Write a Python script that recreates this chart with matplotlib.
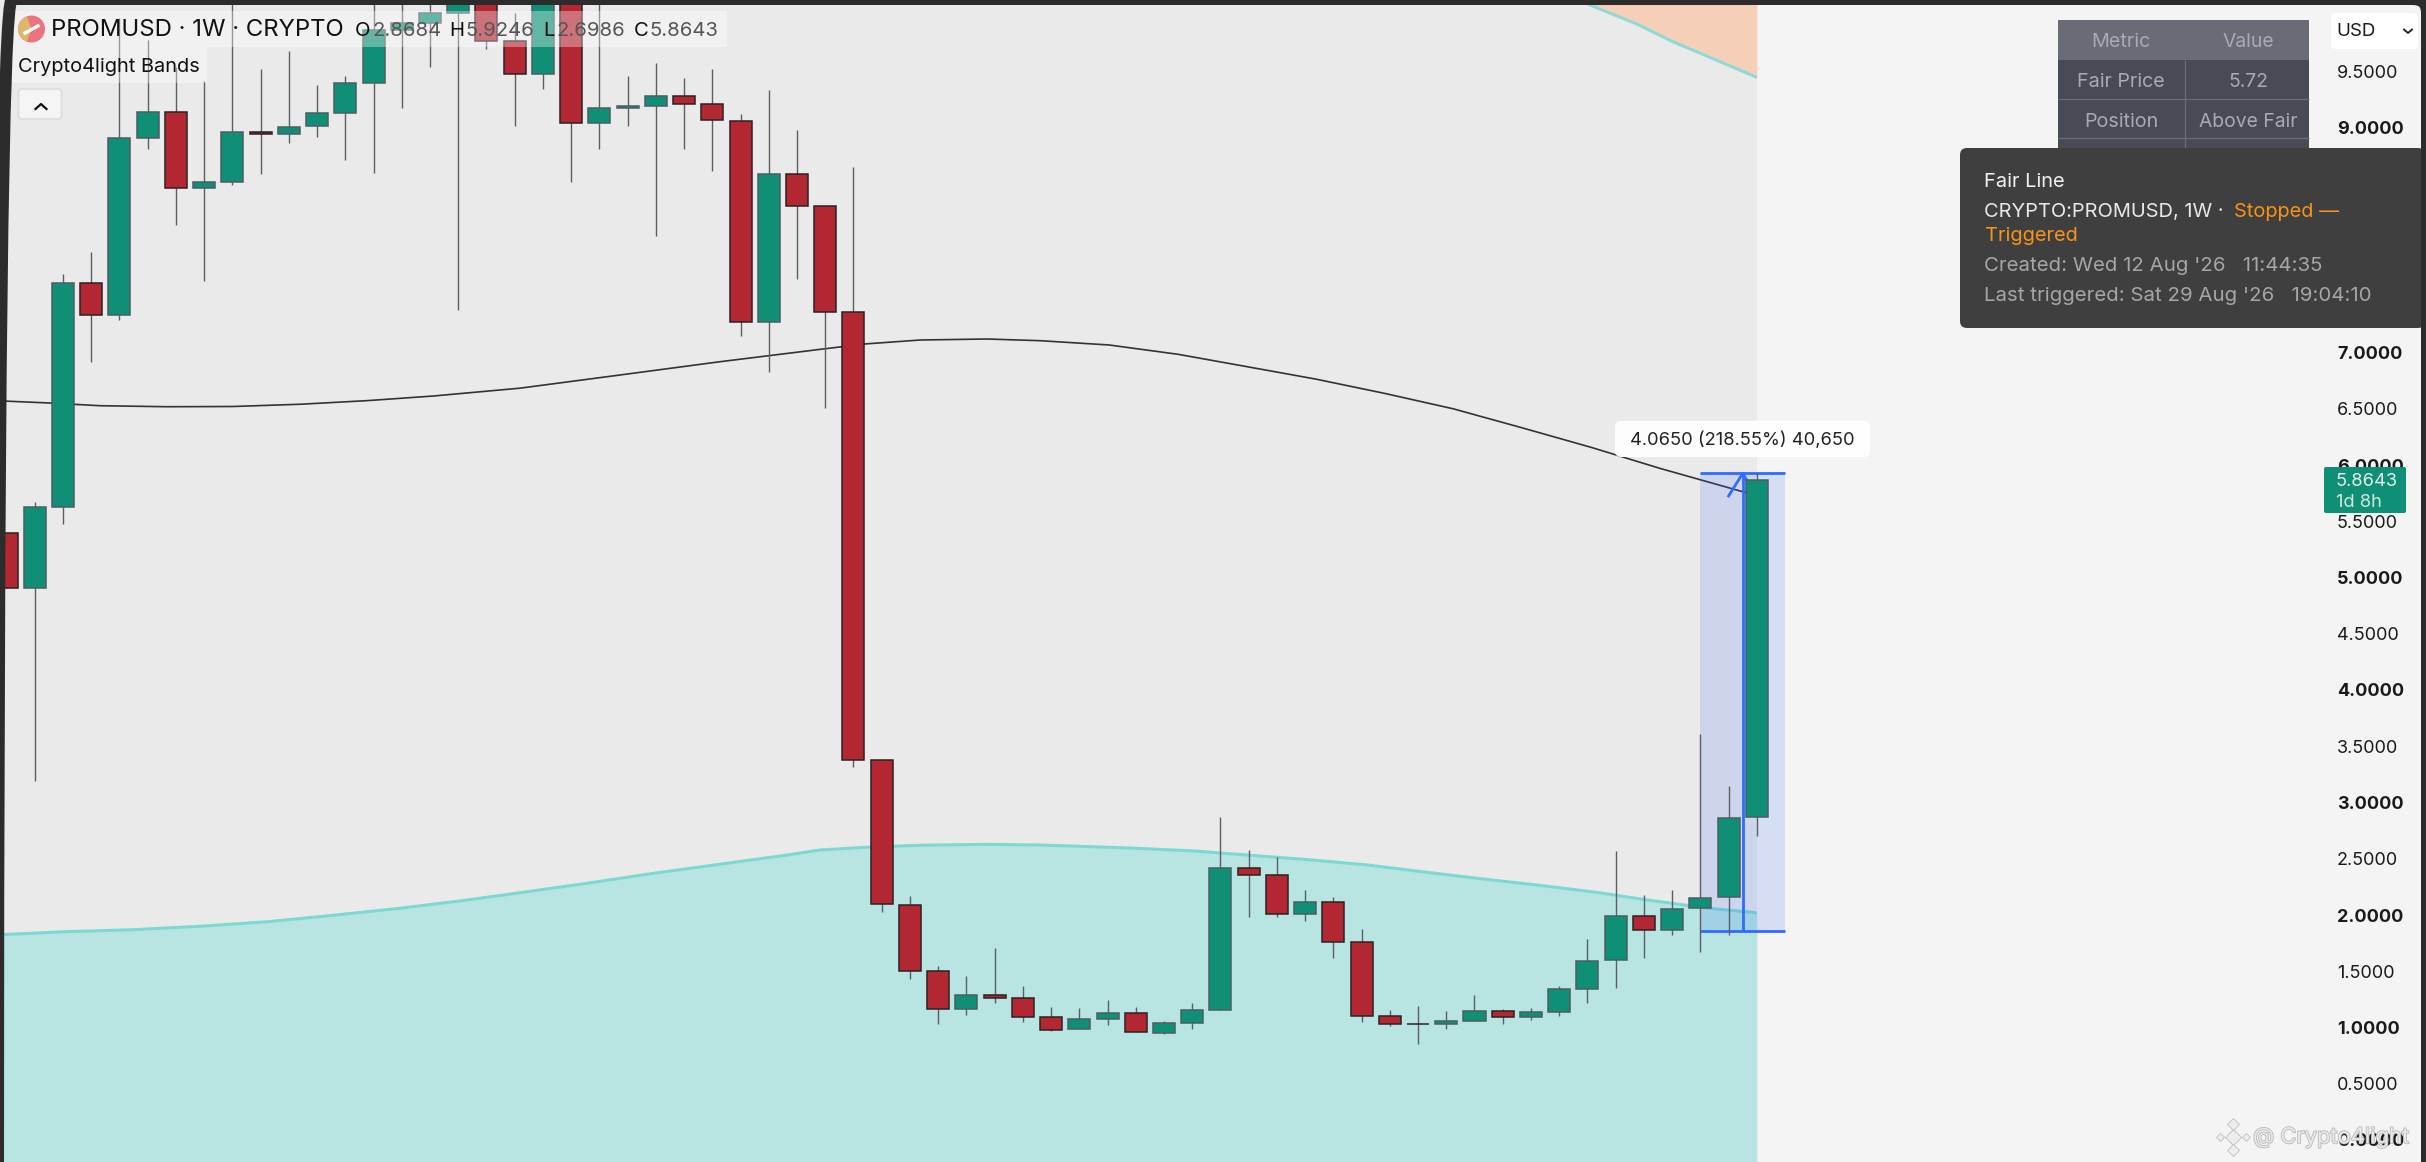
import matplotlib
matplotlib.use('Agg')
from matplotlib import pyplot as plt
from matplotlib import patches
from matplotlib import patheffects
import numpy as np

plt.rcParams['font.family'] = ['Inter', 'DejaVu Sans']

W, H = 2426, 1162
DPI = 100

# weekly candles, first bar index is -2
first_bar = -2
opens = [5.40, 4.91, 5.63, 7.62, 7.33, 8.91, 9.14, 8.46, 8.52, 8.96, 8.94, 9.01, 9.13, 9.40, 9.87, 9.93, 10.02,
         10.25, 9.77, 9.475, 10.25, 9.04, 9.17, 9.19, 9.28, 9.205, 9.06, 7.27, 8.59, 8.30, 7.36, 3.38, 2.09,
         1.50, 1.165, 1.29, 1.26, 1.09, 0.99, 1.08, 1.13, 0.955, 1.04, 1.16, 2.415, 2.36, 2.005, 2.12, 1.76,
         1.10, 1.035, 1.03, 1.06, 1.15, 1.09, 1.14, 1.34, 1.60, 1.995, 1.865, 2.06, 2.16, 2.8684]
closes = [4.91, 5.63, 7.62, 7.33, 8.91, 9.14, 8.46, 8.52, 8.96, 8.94, 9.00, 9.13, 9.40, 9.87, 9.93, 10.02, 10.25,
          9.77, 9.475, 10.25, 9.04, 9.17, 9.19, 9.28, 9.205, 9.07, 7.27, 8.59, 8.30, 7.36, 3.38, 2.10, 1.50,
          1.165, 1.29, 1.26, 1.09, 0.98, 1.08, 1.13, 0.96, 1.04, 1.16, 2.415, 2.36, 2.005, 2.12, 1.76, 1.105,
          1.03, 1.034, 1.06, 1.15, 1.09, 1.14, 1.34, 1.595, 1.995, 1.865, 2.05, 2.155, 2.865, 5.8643]
highs = [5.40, 5.67, 7.70, 7.89, 9.97, 9.78, 9.54, 9.41, 10.3, 9.52, 9.68, 9.38, 9.46, 10.3, 10.3, 10.3, 10.3,
         10.3, 10.02, 10.3, 10.3, 10.3, 9.46, 9.57, 9.44, 9.52, 9.12, 9.33, 8.98, 8.30, 8.65, 3.38, 2.17,
         1.55, 1.46, 1.71, 1.37, 1.18, 1.17, 1.245, 1.18, 1.06, 1.22, 2.87, 2.58, 2.52, 2.22, 2.16, 1.88,
         1.155, 1.19, 1.15, 1.29, 1.165, 1.17, 1.37, 1.79, 2.57, 2.18, 2.225, 3.61, 3.15, 5.9246]
lows = [4.91, 3.19, 5.48, 6.92, 7.29, 8.81, 8.13, 7.64, 8.49, 8.59, 8.86, 8.92, 8.71, 8.60, 9.17, 9.54, 7.38,
        9.70, 9.01, 9.34, 8.52, 8.81, 9.01, 8.04, 8.81, 8.61, 7.15, 6.83, 7.65, 6.51, 3.32, 2.03, 1.43,
        1.03, 1.11, 1.22, 1.05, 0.97, 0.99, 1.02, 0.96, 0.94, 0.99, 1.16, 1.98, 1.985, 1.95, 1.62, 1.05,
        1.01, 0.85, 0.99, 1.06, 1.03, 1.07, 1.10, 1.22, 1.355, 1.62, 1.82, 1.675, 1.82, 2.6986]

fair_x = [-2.23, -0.46, 1.31, 3.68, 6.02, 8.40, 10.77, 13.11, 16.19, 19.73, 23.27, 26.82, 28.41, 30.36, 32.73,
          34.61, 37.05, 39.50, 41.94, 44.37, 46.79, 49.24, 51.68, 54.13, 56.57, 59.58, 60]
fair_y = [6.57, 6.551, 6.527, 6.518, 6.52, 6.54, 6.572, 6.613, 6.683, 6.80, 6.918, 7.028, 7.076, 7.111, 7.12,
          7.105, 7.067, 6.984, 6.874, 6.764, 6.638, 6.50, 6.331, 6.157, 5.97, 5.757, 5.72]

lower_x = [-2.23, 0.14, 2.48, 4.85, 7.23, 9.56, 11.94, 14.31, 16.19, 18.56, 20.90, 23.27, 25.65, 26.82, 28.59,
           30.36, 32.73, 34.61, 36, 38, 40.1, 42.1, 44.1, 46.2, 48.2, 50.2, 52.3, 54.3, 56.3, 58.4, 60]
lower_y = [1.825, 1.852, 1.869, 1.90, 1.94, 1.997, 2.06, 2.133, 2.198, 2.282, 2.37, 2.451, 2.533, 2.578, 2.604,
           2.62, 2.628, 2.622, 2.611, 2.593, 2.569, 2.53, 2.492, 2.445, 2.383, 2.323, 2.264, 2.202, 2.127, 2.057,
           2.02]

upper_x = [53.9, 54.09, 55.75, 57.03, 58.09, 59.05, 60]
upper_y = [10.13, 10.089, 9.92, 9.762, 9.65, 9.547, 9.446]

ruler_start = 58
ruler_end = 61
ruler_mid = 59.5
ruler_low = 1.8596
ruler_high = 5.9246

# 7.5 to 8.5 sit behind the alert tooltip
price_ticks = [0, 0.5, 1, 1.5, 2, 2.5, 3, 3.5, 4, 4.5, 5, 5.5, 6, 6.5, 7, 9, 9.5]

GREEN = '#0F8F75'
RED = '#B32733'
GREEN_EDGE = '#4C5E62'
RED_EDGE = '#2A2226'

fig = plt.figure(figsize=(W / DPI, H / DPI), dpi=DPI, facecolor='#F4F4F4')
ax = fig.add_axes([0, 0, 1, 1], facecolor='#F4F4F4')

# 28.23 px per bar, bar 0 at x=63; 112.5 px per 1.0 of price, 0 at y=1140
x_left = -63 / 28.23
x_right = (W - 63) / 28.23
y_bottom = (1140 - H) / 112.5
y_top = 1140 / 112.5

ax.axvspan(x_left, 60, color='#EAEAEA', lw=0, zorder=0)
ax.fill_between(lower_x, y_bottom - 1, lower_y, color='#B8E5E2', lw=0, zorder=1)
ax.plot(lower_x, lower_y, color='#7DD8D3', lw=2.2, solid_capstyle='butt', zorder=2)
ax.fill_between(upper_x, upper_y, y_top + 1, color='#F5CFB8', lw=0, zorder=1)
ax.plot(upper_x, upper_y, color='#8FDAD6', lw=2.2, solid_capstyle='butt', zorder=2)
ax.plot(fair_x, fair_y, color='#333333', lw=1.2, zorder=3)

# ruler
ax.axvspan(ruler_start, ruler_end, ymin=(ruler_low - y_bottom) / (y_top - y_bottom),
           ymax=(ruler_high - y_bottom) / (y_top - y_bottom), color='#2962FF', alpha=0.15, lw=0, zorder=3)
ax.hlines([ruler_low, ruler_high], ruler_start, ruler_end, color='#2F6BFF', lw=2.0, zorder=4)
ax.vlines(ruler_mid, ruler_low, ruler_high, color='#2F6BFF', lw=2.0, zorder=4)
ax.plot([ruler_mid - 0.5, ruler_mid, ruler_mid + 0.5], [ruler_high - 0.2, ruler_high, ruler_high - 0.2],
        color='#2F6BFF', lw=2.0, zorder=4)

# candles
bars = np.arange(len(opens)) + first_bar
opens = np.array(opens)
closes = np.array(closes)
up = closes >= opens
ax.vlines(bars, lows, highs, color='#5A5F66', lw=1.0, zorder=5)
ax.bar(bars[up], (closes - opens)[up], bottom=opens[up], width=0.78, color=GREEN, edgecolor=GREEN_EDGE, lw=1.1, zorder=6)
ax.bar(bars[~up], (closes - opens)[~up], bottom=opens[~up], width=0.78, color=RED, edgecolor=RED_EDGE, lw=1.1, zorder=6)

ax.set_xlim(x_left, x_right)
ax.set_ylim(y_bottom, y_top)
ax.set_xticks([])
ax.yaxis.tick_right()
ax.set_yticks(price_ticks)
ax.set_yticklabels(['{:.4f}'.format(t) for t in price_ticks])
ax.tick_params(axis='y', length=0, pad=-(W - 2337) * 72 / DPI, labelsize=13, labelcolor='#1A1A1A')
for t, label in zip(price_ticks, ax.get_yticklabels()):
    if t == int(t):
        label.set_fontweight('bold')
for s in ax.spines.values():
    s.set_visible(False)

# screen furniture on top, in pixels
ui = fig.add_axes([0, 0, 1, 1], facecolor='none')
ui.set_xlim(0, W)
ui.set_ylim(H, 0)
ui.axis('off')


def box(x, y, w, h, fc, ec='none', lw=0, r=0, alpha=None, z=2):
    style = 'round,pad=0,rounding_size={}'.format(r) if r else 'square,pad=0'
    p = patches.FancyBboxPatch((x, y), w, h, boxstyle=style, fc=fc, ec=ec, lw=lw, alpha=alpha, zorder=z)
    ui.add_patch(p)


def label(x, y, s, size, color='#1A1A1A', ha='left', weight='normal', z=5):
    return ui.text(x, y, s, fontsize=size, color=color, ha=ha, va='center', fontweight=weight, zorder=z)


# legend header
box(10, 11, 717, 36, 'white', alpha=0.35)
box(10, 47, 197, 36, 'white', alpha=0.35)
ui.add_patch(patches.Circle((31.5, 29), 13.5, fc='#EC7480', ec='none', zorder=3))
ui.add_patch(patches.Wedge((31.5, 29), 13.5, 110, 250, fc='#E2B56C', ec='none', zorder=3))
ui.plot([25, 38], [33, 26], color='white', lw=2.4, zorder=4)
label(51, 30.5, 'PROMUSD · 1W · CRYPTO', 17.2, '#111111')
for x, s in [(355, 'O'), (449, 'H'), (543, 'L'), (634, 'C')]:
    label(x, 30.5, s, 14.6, '#111111')
for x, s in [(372, '2.8684'), (465, '5.9246'), (557, '2.6986'), (649, '5.8643')]:
    label(x, 30.5, s, 14.6, '#555555')
label(18.5, 66.5, 'Crypto4light Bands', 14.4, '#111111')
box(18.5, 89, 43, 30, '#F5F5F5', ec='#DDDDDD', lw=1.2, r=4)
ui.plot([35.5, 41, 46.5], [109, 104, 109], color='#111111', lw=1.6, zorder=4)

# metric table
box(2058, 20, 251, 40, '#696C76')
box(2058, 60, 251, 100, '#484B55')
ui.vlines(2184.5, 60, 160, color='#6B6E76', lw=0.9, zorder=3)
ui.hlines([98.5, 138], 2058, 2309, color='#6B6E76', lw=0.9, zorder=3)
for y, a, b in [(42, 'Metric', 'Value'), (82, 'Fair Price', '5.72'), (122, 'Position', 'Above Fair')]:
    label(2121, y, a, 14.2, '#A9ABB2', ha='center')
    label(2248, y, b, 13.9, '#A9ABB2', ha='center')

# alert tooltip
box(1960, 148, 465, 180, '#3F3F3F', r=7, z=6)
label(1984.5, 182, 'Fair Line', 14.4, '#F0F0F0', z=7)
label(1984.5, 212, 'CRYPTO:PROMUSD, 1W ·', 14.4, '#E8E8E8', z=7)
label(2234, 212, 'Stopped —', 14.4, '#F7931A', z=7)
label(1984.5, 236, 'Triggered', 14.4, '#F7931A', z=7)
label(1984.5, 266, "Created: Wed 12 Aug '26   11:44:35", 14.7, '#A6A6A6', z=7)
label(1984.5, 296, "Last triggered: Sat 29 Aug '26   19:04:10", 14.7, '#A6A6A6', z=7)

# currency select
box(2331, 13, 87, 36, 'white', r=5)
label(2336, 32, 'USD', 13.5, '#1A1A1A')
ui.plot([2404, 2408, 2412], [29.5, 33, 29.5], color='#1A1A1A', lw=1.3, zorder=4)

# last price tag
box(2324, 467, 82, 46, GREEN, r=2)
label(2336, 481.5, '5.8643', 13.2, '#E4F3EF')
label(2336, 502.5, '1d 8h', 13.2, '#CFE8E2')

# ruler text
box(1615, 421, 255, 36, 'white', r=6, alpha=0.95)
label(1742.5, 440, '4.0650 (218.55%) 40,650', 13.2, '#222222', ha='center')

# watermark
for dx, dy, s in [(0, 0, 8), (-13, 0, 4), (13, 0, 4), (0, -13, 6), (0, 13, 6)]:
    ui.plot(2233 + dx, 1137 + dy, marker='D', ms=s, color='#EDEDED', mec='#BDBDBD', mew=0.6, zorder=8)
wm = label(2253, 1137, '@ Crypto4light', 15.8, '#E9E9E9', z=8)
wm.set_path_effects([patheffects.withStroke(linewidth=1.2, foreground='#B8B8B8')])

# window frame
ui.add_patch(patches.FancyBboxPatch((-2, -1), W + 3, H + 30, boxstyle='round,pad=0,rounding_size=14',
                                    fc='none', ec='#2C2C2C', lw=12 * 72 / DPI, zorder=9))

fig.savefig('out.png', dpi=DPI, facecolor=fig.get_facecolor())
